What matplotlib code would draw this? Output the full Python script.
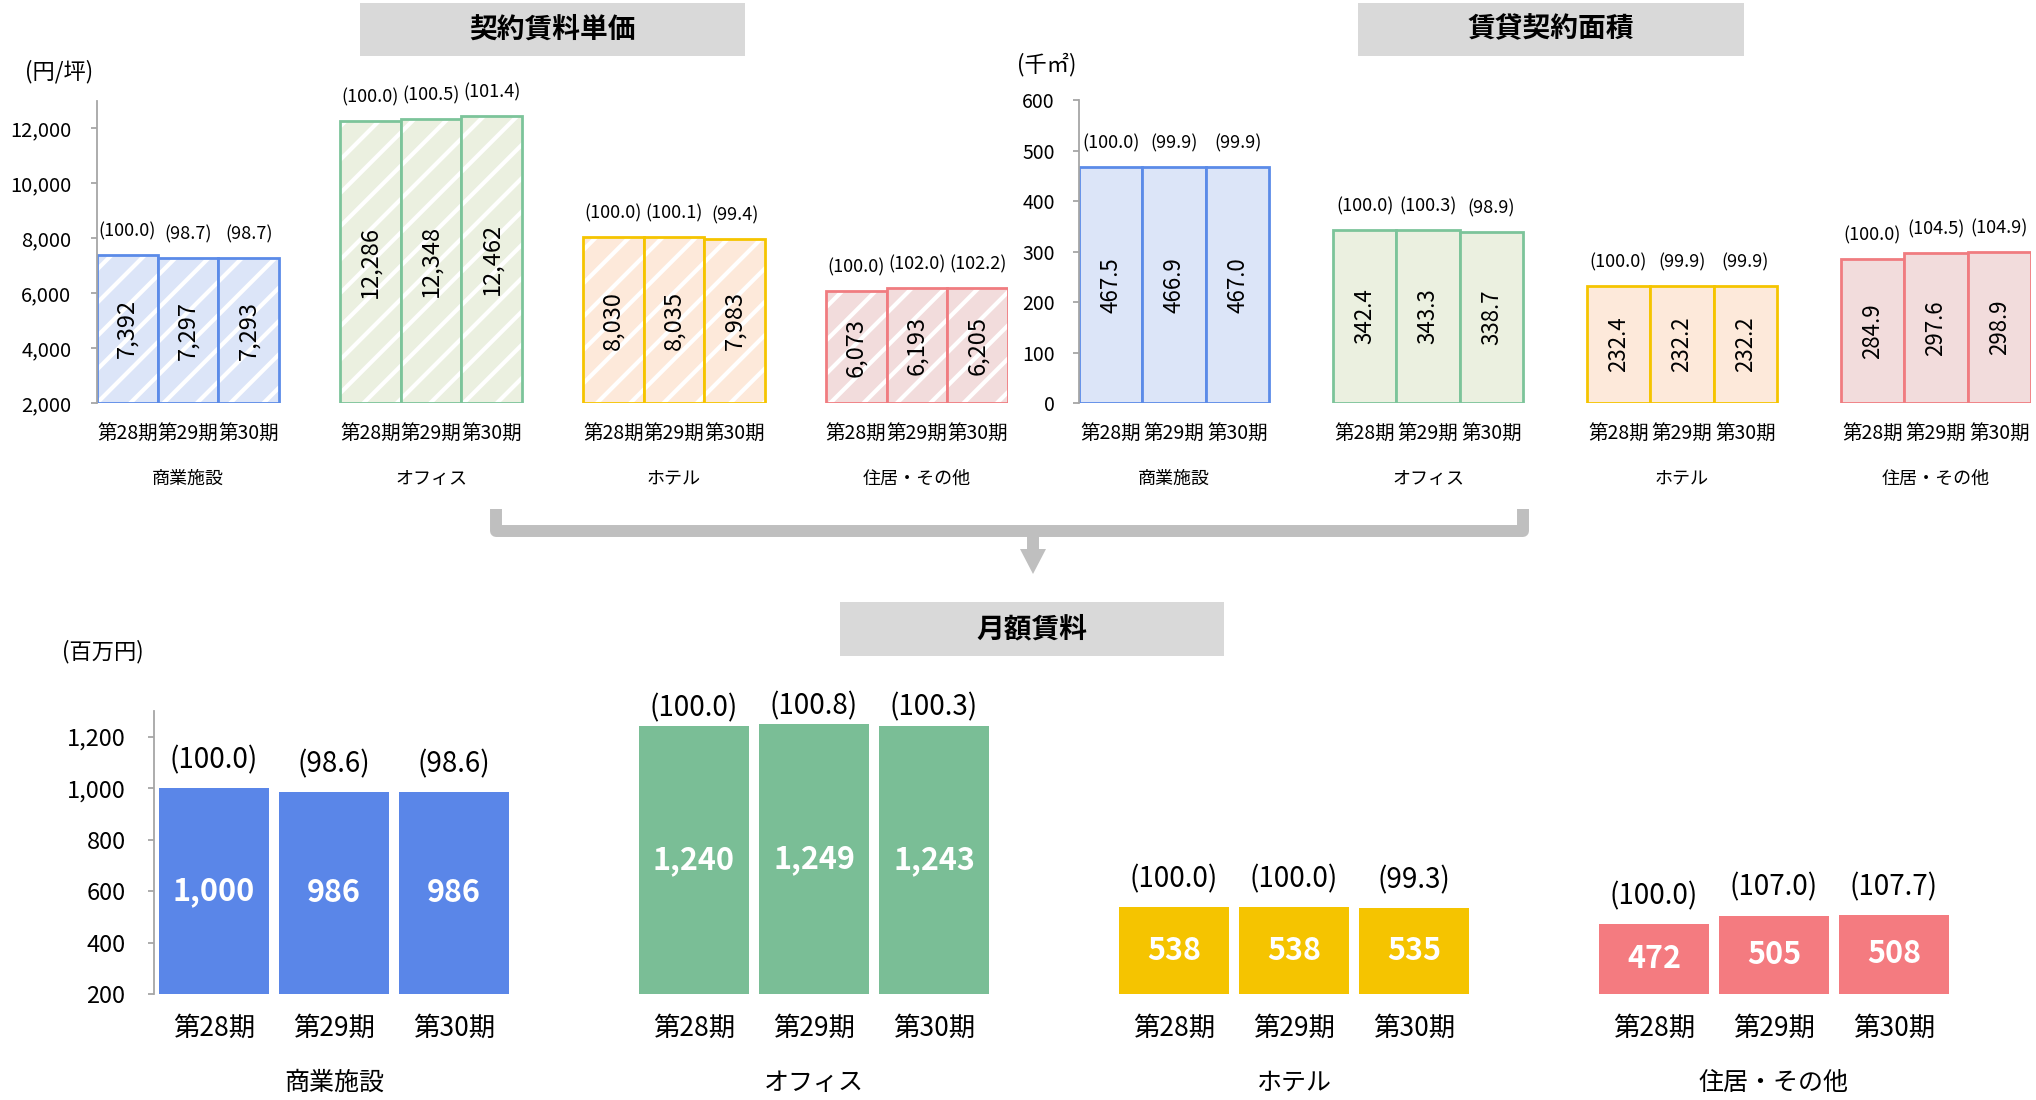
import matplotlib
matplotlib.use("Agg")
import matplotlib.pyplot as plt
from matplotlib.patches import Rectangle, Polygon

plt.rcParams['font.family'] = ['Noto Sans CJK JP', 'DejaVu Sans']
plt.rcParams['hatch.linewidth'] = 3.0

# data
periods = ['第28期', '第29期', '第30期']
categories = ['商業施設', 'オフィス', 'ホテル', '住居・その他']

unit_price = [[7392, 7297, 7293], [12286, 12348, 12462], [8030, 8035, 7983], [6073, 6193, 6205]]
unit_price_idx = [[100.0, 98.7, 98.7], [100.0, 100.5, 101.4], [100.0, 100.1, 99.4], [100.0, 102.0, 102.2]]

area = [[467.5, 466.9, 467.0], [342.4, 343.3, 338.7], [232.4, 232.2, 232.2], [284.9, 297.6, 298.9]]
area_idx = [[100.0, 99.9, 99.9], [100.0, 100.3, 98.9], [100.0, 99.9, 99.9], [100.0, 104.5, 104.9]]

rent = [[1000, 986, 986], [1240, 1249, 1243], [538, 538, 535], [472, 505, 508]]
rent_idx = [[100.0, 98.6, 98.6], [100.0, 100.8, 100.3], [100.0, 100.0, 99.3], [100.0, 107.0, 107.7]]

# colours per category
edge_cols = ['#5B8BE8', '#7CC49A', '#F5C400', '#F07C80']
light_cols = ['#DCE5F8', '#EBF0E0', '#FDE9DA', '#F2DCDC']
solid_cols = ['#5A86E8', '#7ABE96', '#F5C400', '#F47B80']
# label offset above bottom bars (office labels sit closer to the bars)
rent_lbl_off = [20, 13, 20, 20]

W, H = 2036, 1100
fig = plt.figure(figsize=(W / 100, H / 100), dpi=100)

# overlay for boxes / bracket in pixel coords
ov = fig.add_axes([0, 0, 1, 1])
ov.set_xlim(0, W)
ov.set_ylim(H, 0)
ov.axis('off')


def title_box(x0, x1, y0, y1, txt):
    ov.add_patch(Rectangle((x0, y0), x1 - x0, y1 - y0, color='#D9D9D9', lw=0))
    ov.text((x0 + x1) / 2, (y0 + y1) / 2, txt, ha='center', va='center',
            fontsize=20, fontweight='bold')


title_box(360, 745, 3, 56, '契約賃料単価')
title_box(1358, 1744, 3, 56, '賃貸契約面積')
title_box(840, 1224, 602, 656, '月額賃料')

gray = '#BFBFBF'
ov.plot([496, 496, 1523, 1523], [509, 531, 531, 509], color=gray, lw=8.6,
        solid_joinstyle='round', solid_capstyle='butt')
ov.plot([1033, 1033], [531, 552], color=gray, lw=8.6, solid_capstyle='butt')
ov.add_patch(Polygon([[1020, 549], [1046, 549], [1033, 574]], color=gray, lw=0))

ov.text(59, 72, '(円/坪)', ha='center', va='center', fontsize=16)
ov.text(1047, 65, '(千㎡)', ha='center', va='center', fontsize=16)
ov.text(103, 652, '(百万円)', ha='center', va='center', fontsize=16)


def make_ax(left, right, top, bottom):
    return fig.add_axes([left / W, 1 - bottom / H, (right - left) / W, (bottom - top) / H])


def style_ax(ax, ylo, yhi, yticks, tick_fs, tick_pad):
    ax.set_xlim(0, 15)
    ax.set_ylim(ylo, yhi)
    for s in ['top', 'right', 'bottom']:
        ax.spines[s].set_visible(False)
    ax.spines['left'].set_color('#A6A6A6')
    ax.spines['left'].set_linewidth(1.3)
    ax.set_yticks(yticks)
    ax.set_yticklabels(['{:,}'.format(t) for t in yticks])
    ax.tick_params(axis='y', length=4.5, width=1.3, color='#A6A6A6',
                   labelsize=tick_fs, pad=tick_pad)
    ax.patch.set_alpha(0)


xs = [4 * i + j + 0.5 for i in range(4) for j in range(3)]

# ---- top left: unit price
ax1 = make_ax(97, 1008, 101, 403)
style_ax(ax1, 2000, 13000, list(range(2000, 12001, 2000)), 14.5, 14)
for i in range(4):
    for j in range(3):
        x = 4 * i + j + 0.5
        v = unit_price[i][j]
        ax1.bar(x, v - 2000, bottom=2000, width=1.0, color=light_cols[i],
                edgecolor='white', hatch='/', lw=0)
        ax1.bar(x, v - 2000, bottom=2000, width=1.0, facecolor='none',
                edgecolor=edge_cols[i], lw=2)
        ax1.text(x, (2000 + v) / 2, '{:,}'.format(v), rotation=90,
                 ha='center', va='center', fontsize=17)
        ax1.annotate('({:.1f})'.format(unit_price_idx[i][j]), (x, v),
                     xytext=(0, 17), textcoords='offset points',
                     ha='center', va='center', fontsize=13)
ax1.set_xticks(xs)
ax1.set_xticklabels(periods * 4)
ax1.tick_params(axis='x', length=0, labelsize=14, pad=14)
for i, c in enumerate(categories):
    ax1.text(4 * i + 1.5, -0.25, c, transform=ax1.get_xaxis_transform(),
             ha='center', va='center', fontsize=13)

# ---- top right: area
ax2 = make_ax(1079, 2031, 100, 403)
style_ax(ax2, 0, 600, list(range(0, 601, 100)), 14, 13)
for i in range(4):
    for j in range(3):
        x = 4 * i + j + 0.5
        v = area[i][j]
        ax2.bar(x, v, width=1.0, color=light_cols[i], edgecolor=edge_cols[i], lw=2)
        ax2.text(x, v / 2, '{:.1f}'.format(v), rotation=90,
                 ha='center', va='center', fontsize=16)
        ax2.annotate('({:.1f})'.format(area_idx[i][j]), (x, v),
                     xytext=(0, 17), textcoords='offset points',
                     ha='center', va='center', fontsize=13)
ax2.set_xticks(xs)
ax2.set_xticklabels(periods * 4)
ax2.tick_params(axis='x', length=0, labelsize=14, pad=14)
for i, c in enumerate(categories):
    ax2.text(4 * i + 1.5, -0.25, c, transform=ax2.get_xaxis_transform(),
             ha='center', va='center', fontsize=13)

# ---- bottom: monthly rent
ax3 = make_ax(154, 1954, 711, 994)
style_ax(ax3, 200, 1300, list(range(200, 1201, 200)), 17, 16)
for i in range(4):
    for j in range(3):
        x = 4 * i + j + 0.5
        v = rent[i][j]
        ax3.bar(x, v - 200, bottom=200, width=0.91, color=solid_cols[i], lw=0)
        ax3.text(x, (200 + v) / 2, '{:,}'.format(v), ha='center', va='center',
                 fontsize=22, fontweight='bold', color='white')
        ax3.annotate('({:.1f})'.format(rent_idx[i][j]), (x, v),
                     xytext=(0, rent_lbl_off[i]), textcoords='offset points',
                     ha='center', va='center', fontsize=20)
ax3.set_xticks(xs)
ax3.set_xticklabels(periods * 4)
ax3.tick_params(axis='x', length=0, labelsize=19, pad=15)
for i, c in enumerate(categories):
    ax3.text(4 * i + 1.5, -0.315, c, transform=ax3.get_xaxis_transform(),
             ha='center', va='center', fontsize=18)

fig.savefig('out.png', dpi=100)
